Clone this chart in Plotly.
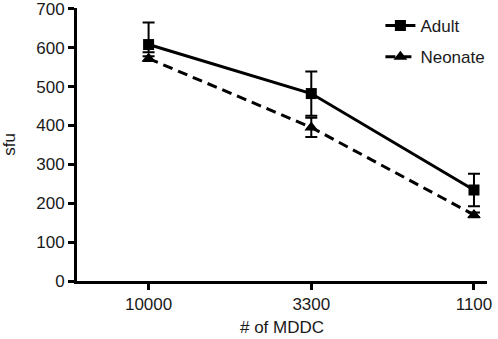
import plotly.graph_objects as go

categories = ["10000", "3300", "1100"]
adult = [608, 482, 234]
adult_err_up = [57, 57, 42]
adult_err_down = [20, 57, 42]
neonate = [572, 395, 170]
neonate_err = [6, 25, 6]
y_ticks = [0, 100, 200, 300, 400, 500, 600, 700]

font = dict(family="Liberation Sans, Arial, sans-serif", size=17, color="#1a1a1a")

fig = go.Figure()
fig.add_trace(go.Scatter(
    x=categories, y=adult, name="Adult", mode="lines+markers", legendgroup="a",
    line=dict(color="black", width=3),
    marker=dict(symbol="square", size=11, color="black"),
    error_y=dict(type="data", array=adult_err_up, arrayminus=adult_err_down,
                 symmetric=False, color="black", thickness=2, width=6),
))
fig.add_trace(go.Scatter(
    x=categories, y=neonate, name="Neonate", mode="lines+markers", legendgroup="n",
    line=dict(color="black", width=3, dash="10px,6px"),
    marker=dict(symbol="triangle-up", size=12, color="black"),
    error_y=dict(type="data", array=neonate_err, color="black", thickness=2, width=6),
))

fig.update_layout(
    width=498, height=339,
    margin=dict(l=77, r=11, t=8, b=58, autoexpand=False),
    paper_bgcolor="white", plot_bgcolor="white",
    font=font,
    showlegend=True,
    legend=dict(x=0.74, y=1.0, xanchor="left", yanchor="top",
                bgcolor="rgba(0,0,0,0)", font=font, itemwidth=30,
                traceorder="grouped", tracegroupgap=6),
    xaxis=dict(
        type="category", range=[-0.44, 2.08], automargin=False,
        showline=True, linecolor="black", linewidth=3,
        ticks="outside", ticklen=6, tickwidth=3, tickcolor="black",
        showgrid=False, zeroline=False, ticklabeloverflow="allow",
        title=dict(text="# of MDDC", font=font, standoff=8),
        tickfont=font,
    ),
    yaxis=dict(
        range=[0, 702], tickvals=y_ticks, automargin=False,
        showline=True, linecolor="black", linewidth=3,
        ticks="outside", ticklen=6, tickwidth=3, tickcolor="black",
        showgrid=False, zeroline=False, ticklabeloverflow="allow",
        title=dict(text="sfu", font=font, standoff=44),
        tickfont=font,
    ),
)

fig.write_html("out.html",
               config={"displayModeBar": False},
               post_script="document.body.style.margin='0';document.body.style.padding='0';")
